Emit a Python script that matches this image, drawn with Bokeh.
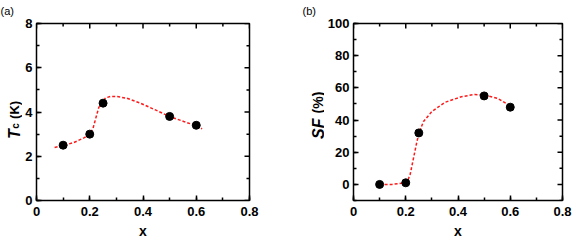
import math
from bokeh.plotting import figure
from bokeh.models import LinearAxis, SingleIntervalTicker, Range1d, Title
from bokeh.core.properties import value
from bokeh.layouts import row
from bokeh.embed import file_html
from bokeh.resources import INLINE

# ---- data ----
x_pts = [0.1, 0.2, 0.25, 0.5, 0.6]
tc_vals = [2.5, 3.0, 4.4, 3.8, 3.4]
sf_vals = [0, 1, 32, 55, 48]

# dashed guide curves
tc_fit_x = [0.068, 0.10, 0.14, 0.178, 0.20, 0.212, 0.222, 0.234, 0.248, 0.259, 0.278,
            0.303, 0.34, 0.39, 0.44, 0.497, 0.553, 0.60, 0.622]
tc_fit_y = [2.40, 2.48, 2.62, 2.83, 2.98, 3.25, 3.69, 4.21, 4.43, 4.64, 4.70,
            4.70, 4.62, 4.40, 4.13, 3.81, 3.57, 3.38, 3.24]
sf_fit_x = [0.10, 0.148, 0.198, 0.208, 0.217, 0.230, 0.243, 0.253, 0.268, 0.30,
            0.35, 0.413, 0.464, 0.50, 0.552, 0.603]
sf_fit_y = [0, 0, 1, 2.5, 6.3, 16.6, 26.8, 33, 39.1, 45.3,
            51, 54.5, 55.9, 55.5, 53.5, 48.4]

# tick positions
x_major = [0, 0.2, 0.4, 0.6, 0.8]
x_minor = [0.1, 0.3, 0.5, 0.7]
tc_major = [0, 2, 4, 6, 8]
tc_minor = [1, 3, 5, 7]
sf_major = [0, 20, 40, 60, 80, 100]
sf_minor = [-10, 10, 30, 50, 70, 90]

FONT = "Liberation Sans"
H = 241
TOP, BOTTOM = 23, 38


def make_panel(width, mb_left, mb_right, yr, y_int, ymaj, ymin, xs, ys, fx, fy):
    p = figure(width=width, height=H, output_backend="svg", toolbar_location=None,
               x_range=Range1d(0, 0.8), y_range=Range1d(*yr),
               min_border_left=mb_left, min_border_right=mb_right,
               min_border_top=TOP, min_border_bottom=BOTTOM,
               x_axis_type=None, y_axis_type=None)
    p.xgrid.visible = False
    p.ygrid.visible = False
    p.outline_line_color = "black"
    p.outline_line_width = 1.5
    p.background_fill_color = "white"
    p.border_fill_color = "white"

    for side, is_x in (("below", True), ("left", False)):
        tk = SingleIntervalTicker(interval=0.2 if is_x else y_int, num_minor_ticks=2)
        ax = LinearAxis(ticker=tk)
        ax.axis_line_color = None
        ax.major_tick_in = 5
        ax.major_tick_out = 0
        ax.minor_tick_in = 3
        ax.minor_tick_out = 0
        ax.major_tick_line_width = 1.5
        ax.minor_tick_line_width = 1.5
        ax.major_tick_line_color = "black"
        ax.minor_tick_line_color = "black"
        ax.major_label_text_font = FONT
        ax.major_label_text_font_style = "bold"
        ax.major_label_text_font_size = "13px"
        ax.major_label_text_color = "black"
        if is_x:
            ax.major_label_standoff = 6
            ax.axis_label = "x"
            ax.axis_label_text_font = FONT
            ax.axis_label_text_font_style = "bold"
            ax.axis_label_text_font_size = "14px"
            ax.axis_label_text_color = "black"
            ax.axis_label_standoff = 4
        else:
            ax.major_label_standoff = 4
        p.add_layout(ax, side)

    # mirrored inward ticks on the top and right edges
    top, right = yr[1], 0.8
    p.scatter([right] * len(ymaj), ymaj, marker="dash", size=10, line_color="black", line_width=1.5)
    p.scatter([right] * len(ymin), ymin, marker="dash", size=6, line_color="black", line_width=1.5)
    p.scatter(x_major, [top] * len(x_major), marker="dash", size=10, angle=math.pi / 2,
              line_color="black", line_width=1.5)
    p.scatter(x_minor, [top] * len(x_minor), marker="dash", size=6, angle=math.pi / 2,
              line_color="black", line_width=1.5)

    p.line(fx, fy, line_color="#ff1a1a", line_width=1.5, line_dash="3 2")
    p.scatter(xs, ys, size=8, color="black")
    return p


def label_fig(width, letter, letter_x):
    f = figure(width=width, height=H, output_backend="svg", toolbar_location=None,
               x_range=Range1d(0, width), y_range=Range1d(BOTTOM, H - TOP),
               min_border_left=0, min_border_right=0,
               min_border_top=TOP, min_border_bottom=BOTTOM,
               x_axis_type=None, y_axis_type=None)
    f.title = Title(text=letter, align="left", offset=letter_x, vertical_align="top",
                    standoff=9, text_font=FONT, text_font_style="normal",
                    text_font_size="11px", text_color="black")
    f.xgrid.visible = False
    f.ygrid.visible = False
    f.outline_line_color = None
    f.background_fill_color = "white"
    f.border_fill_color = "white"
    return f


def lab(f, x, y_px, text, size, style="bold"):
    # y given in pixels from the top of the picture; the frame's data range maps it 1:1
    f.text(x=[x], y=[H - y_px], text=[text], angle=math.pi / 2, text_font=value(FONT),
           text_font_style=style, text_font_size=value(size), text_align="left",
           text_baseline="alphabetic", text_color="black")


p1 = make_panel(261, 14, 34, (0, 8), 2, tc_major, tc_minor, x_pts, tc_vals, tc_fit_x, tc_fit_y)
p2 = make_panel(249, 27, 11, (-10, 100), 20, sf_major, sf_minor, x_pts, sf_vals, sf_fit_x, sf_fit_y)

l1 = label_fig(22, "(a)", 0)
lab(l1, 13.5, 140.5, "T", "16px", style="bold italic")
lab(l1, 14.5, 130, "c", "10px")
lab(l1, 13.5, 120, "(K)", "13px")

l2 = label_fig(41, "(b)", 19)
lab(l2, 34.5, 140.5, "SF", "16px", style="bold italic")
lab(l2, 34.5, 114.5, "(%)", "14px")

layout = row(l1, p1, l2, p2)
open("out.html", "w").write(file_html(layout, INLINE))
